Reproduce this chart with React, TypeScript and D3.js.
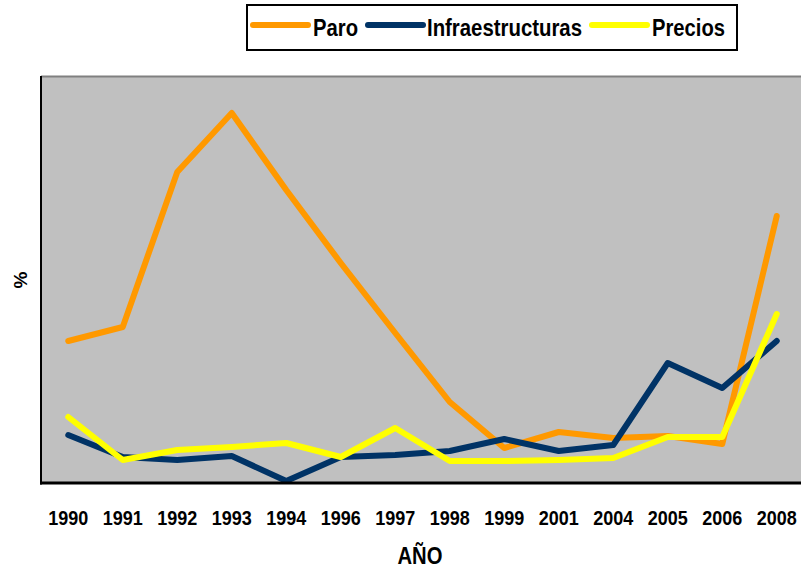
import React from "react";
import * as d3 from "d3";

const years = ["1990", "1991", "1992", "1993", "1994", "1996", "1997", "1998", "1999", "2001", "2004", "2005", "2006", "2008"];
const paro = [14.2, 15.6, 31.1, 37.0, 29.3, 22.0, 15.0, 8.1, 3.5, 5.1, 4.5, 4.7, 3.9, 26.7];
const infraestructuras = [4.8, 2.6, 2.3, 2.7, 0.2, 2.6, 2.8, 3.2, 4.4, 3.2, 3.8, 12.0, 9.5, 14.2];
const precios = [6.6, 2.3, 3.3, 3.6, 4.0, 2.6, 5.5, 2.2, 2.2, 2.3, 2.5, 4.6, 4.6, 16.9];
const seriesNames = ["Paro", "Infraestructuras", "Precios"];
const seriesColors = ["#FF9900", "#003366", "#FFFF00"];

const W = 801;
const H = 570;
const plot = { left: 41, right: 804, top: 77, bottom: 483 };
const FONT = "'Liberation Sans Narrow', 'Arial Narrow', 'Liberation Sans', Arial, sans-serif";

export default function App() {
  const x = d3.scalePoint<string>().domain(years).range([plot.left, plot.right]).padding(0.5);
  const y = d3.scaleLinear().domain([0, 40.6]).range([plot.bottom, plot.top]);
  const line = d3
    .line<number>()
    .x((_, i) => x(years[i]) as number)
    .y((d) => y(d));
  const data = [paro, infraestructuras, precios];

  const legendItems = [
    { lx: 253, tx: 313, tw: 45 },
    { lx: 368, tx: 427, tw: 155 },
    { lx: 592, tx: 652, tw: 73 },
  ];

  return (
    <svg width={W} height={H} style={{ position: "absolute", left: 0, top: 0, display: "block" }}>
      <defs>
        <clipPath id="plotclip">
          <rect x={plot.left} y={plot.top} width={W - plot.left} height={plot.bottom - plot.top} />
        </clipPath>
      </defs>
      <rect x={0} y={0} width={W} height={H} fill="#ffffff" />
      <rect x={plot.left} y={plot.top} width={plot.right - plot.left} height={plot.bottom - plot.top} fill="#C0C0C0" />
      <line x1={plot.left} x2={W} y1={plot.top - 0.5} y2={plot.top - 0.5} stroke="#808080" strokeWidth={2} />
      <g clipPath="url(#plotclip)">
        {data.map((s, i) => (
          <path
            key={i}
            d={line(s) as string}
            fill="none"
            stroke={seriesColors[i]}
            strokeWidth={6}
            strokeLinecap="round"
            strokeLinejoin="round"
          />
        ))}
      </g>
      <line x1={plot.left} x2={plot.left} y1={plot.top - 1} y2={plot.bottom + 1.5} stroke="#000" strokeWidth={2} />
      <line x1={plot.left - 1} x2={W} y1={plot.bottom} y2={plot.bottom} stroke="#000" strokeWidth={3} />

      {years.map((yr) => (
        <text
          key={yr}
          x={x(yr)}
          y={525}
          textAnchor="middle"
          fontFamily={FONT}
          fontWeight="bold"
          fontSize={21}
          textLength={40}
          lengthAdjust="spacingAndGlyphs"
          fill="#000"
        >
          {yr}
        </text>
      ))}
      <text x={420} y={564} textAnchor="middle" fontFamily={FONT} fontWeight="bold" fontSize={23} textLength={45} lengthAdjust="spacingAndGlyphs">
        AÑO
      </text>
      <text
        transform="translate(27,280) rotate(-90)"
        textAnchor="middle"
        fontFamily={FONT}
        fontWeight="bold"
        fontSize={19}
      >
        %
      </text>

      <rect x={247} y={5} width={490} height={45} fill="#fff" stroke="#000" strokeWidth={2} />
      {seriesNames.map((n, i) => (
        <g key={n}>
          <line
            x1={legendItems[i].lx}
            x2={legendItems[i].lx + 55}
            y1={25}
            y2={25}
            stroke={seriesColors[i]}
            strokeWidth={6}
            strokeLinecap="round"
          />
          <text
            x={legendItems[i].tx}
            y={36}
            fontFamily={FONT}
            fontWeight="bold"
            fontSize={24}
            textLength={legendItems[i].tw}
            lengthAdjust="spacingAndGlyphs"
          >
            {n}
          </text>
        </g>
      ))}
    </svg>
  );
}
